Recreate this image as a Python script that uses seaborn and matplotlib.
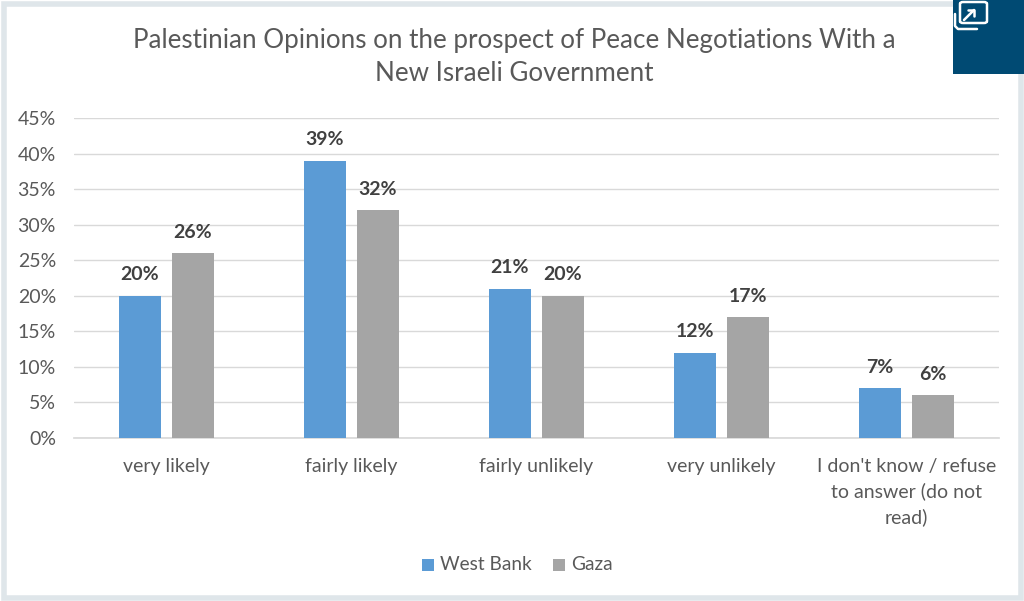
import matplotlib
matplotlib.use("Agg")
import matplotlib.pyplot as plt
from matplotlib.lines import Line2D
from matplotlib.patches import FancyBboxPatch, Rectangle
import pandas as pd
import seaborn as sns

categories = ["very likely", "fairly likely", "fairly unlikely", "very unlikely",
              "I don't know / refuse\nto answer (do not\nread)"]
west_bank = [20, 39, 21, 12, 7]
gaza = [26, 32, 20, 17, 6]
series_names = ["West Bank", "Gaza"]
title_text = "Palestinian Opinions on the prospect of Peace Negotiations With a\nNew Israeli Government"
yticks = list(range(0, 50, 5))

TEXT = "#595959"
W, H = 1024, 601
sns.set_theme(style="white")
plt.rcParams["font.family"] = ["Lato", "DejaVu Sans"]

df = pd.DataFrame({
    "category": categories * 2,
    "value": west_bank + gaza,
    "series": [series_names[0]] * 5 + [series_names[1]] * 5,
})

fig = plt.figure(figsize=(W / 100, H / 100), dpi=100, facecolor="white")
ax = fig.add_axes([74 / W, 1 - 438 / H, (999 - 74) / W, (438 - 118) / H])

sns.barplot(data=df, x="category", y="value", hue="series", ax=ax,
            palette=["#5B9BD5", "#A5A5A5"], gap=0.21, width=0.573, saturation=1,
            legend=False, linewidth=0, zorder=3)

ax.set_ylim(0, 45)
ax.set_xlim(-0.5, 4.5)
ax.set_yticks(yticks)
ax.set_yticklabels([f"{v}%" for v in yticks], color=TEXT, fontsize=14)
ax.tick_params(axis="x", length=0, colors=TEXT, labelsize=14, pad=14.5)
ax.tick_params(axis="y", length=0, pad=13)
for label in ax.get_xticklabels():
    label.set_linespacing(1.5)
ax.set_xlabel("")
ax.set_ylabel("")
ax.grid(axis="y", color="#D9D9D9", linewidth=1)
ax.set_axisbelow(True)
for side in ["top", "right", "left"]:
    ax.spines[side].set_visible(False)
ax.spines["bottom"].set_color("#D9D9D9")

for container in ax.containers:
    ax.bar_label(container, fmt="%d%%", padding=9, color="#404040",
                 fontsize=14, fontweight="bold")

fig.text(514 / W, 1 - 57 / H, title_text, ha="center", va="center",
         color=TEXT, fontsize=18.7, linespacing=1.42)

# Legend swatches and labels along the bottom
for x, name, color in [(422, series_names[0], "#5B9BD5"), (553, series_names[1], "#A5A5A5")]:
    fig.add_artist(Rectangle((x / W, 1 - 571 / H), 12 / W, 12 / H,
                             transform=fig.transFigure, color=color, linewidth=0))
    fig.text((x + 18) / W, 1 - 565 / H, name, ha="left", va="center",
             color=TEXT, fontsize=13.7)

# Pale frame around the chart
fig.add_artist(Rectangle((3.5 / W, 3.5 / H), 1017 / W, 594 / H, fill=False,
                         edgecolor="#DFE6EA", linewidth=4, transform=fig.transFigure))

# Expand badge in the top-right corner
fig.add_artist(Rectangle((953 / W, 1 - 74 / H), 71 / W, 74 / H, color="#004A73",
                         linewidth=0, transform=fig.transFigure, zorder=5))
fig.add_artist(FancyBboxPatch((960 / W, 1 - 23 / H), 27 / W, 21 / H,
                              boxstyle="round,pad=0,rounding_size=0.003", fill=False,
                              edgecolor="white", linewidth=1.8,
                              transform=fig.transFigure, zorder=6))
fig.add_artist(Line2D([955 / W, 955 / W, 958 / W, 977 / W],
                      [1 - 14 / H, 1 - 26 / H, 1 - 29 / H, 1 - 29 / H],
                      color="white", linewidth=1.8, transform=fig.transFigure, zorder=6))
fig.add_artist(Line2D([964 / W, 974 / W], [1 - 20 / H, 1 - 10 / H], color="white",
                      linewidth=1.8, transform=fig.transFigure, zorder=6))
fig.add_artist(Line2D([968 / W, 974 / W, 974 / W], [1 - 10 / H, 1 - 10 / H, 1 - 16 / H],
                      color="white", linewidth=1.8, transform=fig.transFigure, zorder=6))

fig.savefig("out.png", dpi=100)
